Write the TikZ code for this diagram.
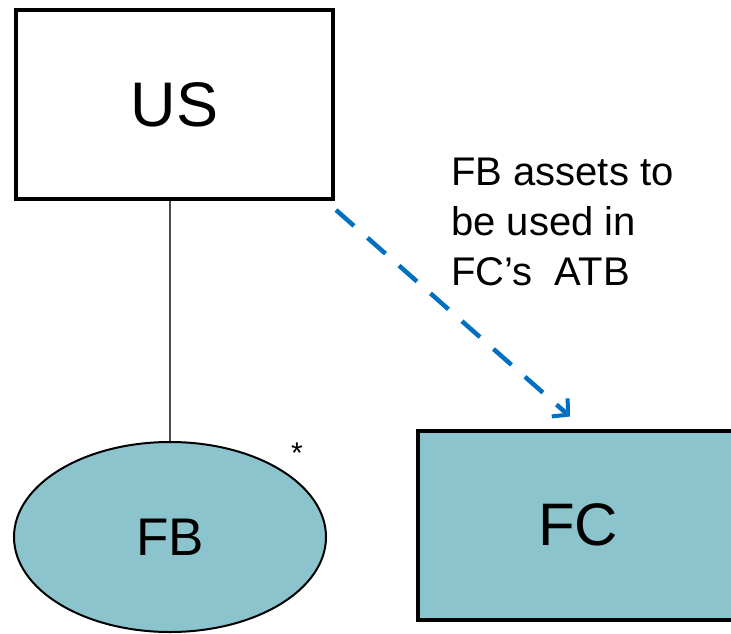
\documentclass[tikz,border=0pt]{standalone}
\usepackage{fontspec}
\setmainfont{Liberation Sans}
\usetikzlibrary{arrows.meta,shapes.geometric}
\definecolor{entityfill}{RGB}{139,196,204}
\definecolor{flowblue}{RGB}{0,112,192}
\begin{document}
\begin{tikzpicture}[x=1pt,y=-1pt,
  entitybox/.style={draw=black,line width=4pt,rectangle,inner sep=0pt,
    minimum width=317pt,minimum height=189pt},
  branch/.style={draw=black,line width=2pt,ellipse,fill=entityfill,inner sep=0pt,
    minimum width=312pt,minimum height=190pt},
  ownership/.style={draw=black!70,line width=1.5pt},
  assetflow/.style={draw=flowblue,line width=4.5pt,dash pattern=on 24pt off 18pt,
    -{Straight Barb[length=11pt,width=24pt,line width=4pt]}},
  note/.style={font=\fontsize{40}{50}\selectfont,align=left,inner sep=0pt,anchor=north west}]
\useasboundingbox (0,0) rectangle (731,633);
\clip (0,0) rectangle (731,633);
\fill[white] (0,0) rectangle (731,633);

% entities
\node[entitybox,font=\fontsize{63}{70}\selectfont] (US) at (174.5,104.5) {US};
\node[branch,font=\fontsize{53}{60}\selectfont] (FB) at (170,537) {FB};
\node[entitybox,fill=entityfill,minimum width=321pt,font=\fontsize{60}{66}\selectfont] (FC) at (578,525) {FC};
\node[font=\fontsize{30}{32}\selectfont,inner sep=0pt] (star) at (297,453) {*};

% ownership line and asset flow
\draw[ownership] (FB.north) -- (US.south -| FB.north);
\draw[assetflow] ([xshift=1pt,yshift=-9pt]US.south east) -- ([xshift=-8pt,yshift=12pt]FC.north);

\node[note] (label) at (451,158) {FB assets to\\be used in\\FC’s~ ATB};
\end{tikzpicture}
\end{document}
